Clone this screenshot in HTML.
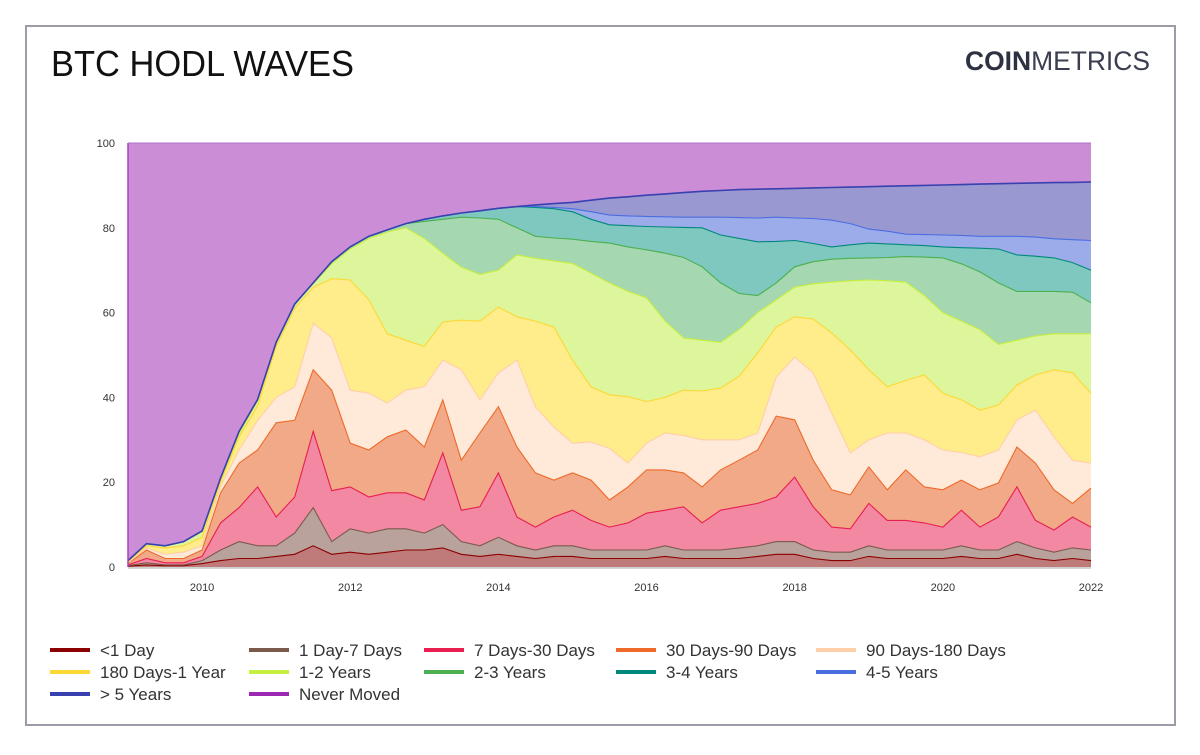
<!DOCTYPE html>
<html><head><meta charset="utf-8"><title>BTC HODL Waves</title>
<style>
html,body{margin:0;padding:0;background:#fff;}
body{width:1200px;height:750px;overflow:hidden;font-family:"Liberation Sans",sans-serif;}
</style></head>
<body>
<svg id="chart" width="1200" height="750" viewBox="0 0 1200 750" xmlns="http://www.w3.org/2000/svg">
<rect x="26" y="26" width="1149" height="699" fill="#fff" stroke="#9a9ca8" stroke-width="2"/>
<text x="51" y="76" font-size="36" fill="#111" textLength="303" lengthAdjust="spacingAndGlyphs">BTC HODL WAVES</text>
<text x="965" y="70" font-size="27" fill="#2d3142" textLength="185" lengthAdjust="spacingAndGlyphs"><tspan font-weight="bold">COIN</tspan><tspan font-weight="normal" fill="#3a3e50">METRICS</tspan></text>
<g id="grid"></g>
<g id="areas"></g>
<g id="lines"></g>
<g id="axes"></g>
<g id="legend"></g>
</svg>
<script>
// dates: quarterly from 2009.0 to 2022.0
const startYear = 2009, stepYear = 0.25;
const yTicks = [0, 20, 40, 60, 80, 100];
const xTicks = [2010, 2012, 2014, 2016, 2018, 2020, 2022];
const seriesNames = ["<1 Day","1 Day-7 Days","7 Days-30 Days","30 Days-90 Days","90 Days-180 Days","180 Days-1 Year","1-2 Years","2-3 Years","3-4 Years","4-5 Years","> 5 Years","Never Moved"];
// cumulative share (%) at top of each band
const cumLt1d = [0.2,0.5,0.3,0.3,0.8,1.5,2,2,2.5,3,5,3,3.5,3,3.5,4,4,4.5,3,2.5,3,2.5,2,2.5,2.5,2,2,2,2,2.5,2,2,2,2,2.5,3,3,2,1.5,1.5,2.5,2,2,2,2,2.5,2,2,3,2,1.5,2,1.5];
const cum1d7d = [0.3,1,0.5,0.5,1.5,4,6,5,5,8,14,6,9,8,9,9,8,10,6,5,7,5,4,5,5,4,4,4,4,5,4,4,4,4.5,5,6,6,4,3.5,3.5,5,4,4,4,4,5,4,4,6,4.5,3.5,4.5,4];
const cum7d30d = [0.5,2,1,1,2.5,10.4,14,18.9,11.8,16.5,32,18,18.9,16.5,17.5,17.5,15.8,26.9,13.4,14.2,22.2,11.8,9.4,11.8,13.4,11,9.4,10.4,12.7,13.4,14.2,10.4,13.4,14.2,15,16.5,21.2,14.2,9.4,9,15,11,11,10.4,9.4,13.4,9.4,11.8,18.9,11,8.7,11.8,9.4];
const cum30d90d = [0.8,4,2,2,4,17.5,24.5,27.6,34,34.6,46.5,41.7,29.2,27.6,30.7,32.3,28.3,39.4,25.2,31.6,37.8,28.3,22.2,20.5,22.2,20.5,15.8,18.9,22.9,22.9,22.2,18.9,22.9,25.2,27.6,35.6,34.7,25.2,18.2,17,23.6,18.2,22.9,18.9,18.2,20.5,18.2,19.8,28.3,24.5,18.2,15,18.6];
const cum90d180d = [1,4.5,3,3.5,5,19,27.6,34.6,40,42.5,57.5,54,41.7,41,38.7,41.7,42.5,48.8,46.5,39.4,45.8,48.8,37.8,33,29.2,29.5,28,24.5,29.2,31.6,31,30,30,30,31.6,44.8,49.5,45.8,36.3,26.9,30,31.6,31.6,30,27.6,27,26,27.6,34.7,37,30.7,25.2,24.5];
const cum180d1y = [1.3,5,4.5,5,7,20,30.7,38,52,61,66,68,67.7,63,55,53.5,52,57.8,58.2,58,61.3,59,58,56.6,48.8,42.5,40.6,40.2,39,40,41.7,41.5,42.2,45,50.5,56.6,59,58.5,55.2,51.2,46.5,42.5,44,45.3,41,39.4,37,38.2,42.9,45.3,46.5,45.8,41];
const cum1y2y = [1.5,5.5,5,6,8.3,20.8,31.5,39.2,52.8,62,66.8,71.5,75,77.5,79,80,77.5,74,70.7,69,70,73.6,72.8,72.2,71.6,69.3,67,65,63.5,58,54,53.5,53,56,60,63,66,66.8,67.2,67.5,67.7,67.5,67.2,64,60,58,56,52.5,53.5,54.5,55,55,55];
const cum2y3y = [1.5,5.5,5,6,8.5,21,32,39.5,53,62,67,72,75.5,78,79.5,81,81.5,82,82.5,82.3,82,80,78,77.6,77.3,76.8,76.4,75.5,74.8,74,73,70.8,67,64.5,64,67,70.8,72,72.6,72.8,72.9,73,73.2,73.1,72.9,71.5,69.6,67,65,65,65,64.8,62.3];
const cum3y4y = [1.5,5.5,5,6,8.5,21,32,39.5,53,62,67,72,75.5,78,79.5,81,82,82.8,83.5,84,84.6,85,84.8,84.5,83.8,82,80.7,80.5,80.3,80.2,80.1,80,78.3,77.5,76.7,76.8,77,76.3,75.5,76,76.4,76.2,76,75.8,75.5,75.3,75.2,75,73.6,73.3,72.9,71.8,70];
const cum4y5y = [1.5,5.5,5,6,8.5,21,32,39.5,53,62,67,72,75.5,78,79.5,81,82,82.8,83.5,84,84.6,85,85,84.8,84.5,83.8,83,82.8,82.7,82.6,82.5,82.5,82.5,82.4,82.3,82.5,82.3,82.2,81.8,81,79.7,79.2,78.5,78.4,78.3,78.2,78,78,78,77.8,77.4,77.2,77];
const cumOver5y = [1.5,5.5,5,6,8.5,21,32,39.5,53,62,67,72,75.5,78,79.5,81,82,82.8,83.5,84,84.6,85,85.4,85.7,86,86.5,87,87.3,87.7,88,88.3,88.6,88.8,89,89.1,89.2,89.3,89.4,89.5,89.6,89.7,89.8,89.9,90,90.1,90.2,90.3,90.4,90.5,90.6,90.65,90.7,90.8];

const fills = ["#bf7a7a","#b9a29c","#f288a2","#f1a987","#ffe9d8","#ffec8a","#ddf59b","#a5d8b0","#7fc8c0","#9cacea","#9a98d0","#cb8ed6"];
const strokes = ["#8b0000","#7b5a4c","#e91e50","#ee6a2a","#ffd0a8","#fdd835","#c6ef3e","#4caf50","#00897b","#4a6ee0","#3940b0","#9c27b0"];

const X0 = 128, X1 = 1091, Y0 = 567, Y1 = 143;
function xs(t){ return X0 + (t - startYear) / 13 * (X1 - X0); }
function ys(v){ return Y0 - v / 100 * (Y0 - Y1); }

const NS = "http://www.w3.org/2000/svg";
function mk(tag, attrs, parent){ const e = document.createElementNS(NS, tag); for (const k in attrs) e.setAttribute(k, attrs[k]); parent.appendChild(e); return e; }

const n = cumOver5y.length;
const dates = []; for (let i = 0; i < n; i++) dates.push(startYear + i * stepYear);
const zeros = dates.map(() => 0);
const hundred = dates.map(() => 100);
const tops = [cumLt1d, cum1d7d, cum7d30d, cum30d90d, cum90d180d, cum180d1y, cum1y2y, cum2y3y, cum3y4y, cum4y5y, cumOver5y, hundred];

const grid = document.getElementById('grid');
yTicks.forEach(v => {
  const l = mk('line', {x1: X0, x2: X1, y1: ys(v), y2: ys(v), stroke: '#e6e6e6', 'stroke-width': 1}, grid);
  
  
});

const areas = document.getElementById('areas');
const lines = document.getElementById('lines');
for (let s = tops.length - 1; s >= 0; s--) {
  const top = tops[s], bot = s === 0 ? zeros : tops[s - 1];
  let d = '';
  for (let i = 0; i < n; i++) d += (i ? 'L' : 'M') + xs(dates[i]).toFixed(1) + ',' + ys(top[i]).toFixed(1);
  for (let i = n - 1; i >= 0; i--) d += 'L' + xs(dates[i]).toFixed(1) + ',' + ys(bot[i]).toFixed(1);
  d += 'Z';
  const a = mk('path', {d: d, fill: fills[s], stroke: 'none'}, areas);
  
  
}
for (let s = 0; s < tops.length - 1; s++) {
  const top = tops[s];
  let d = '';
  for (let i = 0; i < n; i++) d += (i ? 'L' : 'M') + xs(dates[i]).toFixed(1) + ',' + ys(top[i]).toFixed(1);
  const l = mk('path', {d: d, fill: 'none', stroke: strokes[s], 'stroke-width': s === 10 ? 1.6 : 1.1}, lines);
  
  
}
const edge = mk('line', {x1: X0, x2: X0, y1: Y1, y2: Y0, stroke: '#a340c0', 'stroke-width': 1.5}, lines);


const topEdge = mk('line', {x1: X0, x2: X1, y1: Y1, y2: Y1, stroke: '#b070d0', 'stroke-width': 1}, lines);



const axes = document.getElementById('axes');
const xAxis = mk('line', {x1: X0, x2: X1, y1: Y0 + 1, y2: Y0 + 1, stroke: '#c8c8c8', 'stroke-width': 1.5}, axes);


yTicks.forEach(v => {
  const t = mk('text', {x: 115, y: ys(v) + 4, 'font-size': 11, fill: '#333', 'text-anchor': 'end'}, axes);
  t.textContent = v;
  
  
});
xTicks.forEach(v => {
  const t = mk('text', {x: xs(v), y: 591, 'font-size': 11, fill: '#333', 'text-anchor': 'middle'}, axes);
  t.textContent = v;
  
  
});

const legend = document.getElementById('legend');
const colX = [50, 249, 424, 616, 816];
const rowY = [650, 672, 694];
seriesNames.forEach((name, i) => {
  const c = i % 5, r = Math.floor(i / 5);
  const g = mk('g', {}, legend);
  
  
  mk('rect', {x: colX[c], y: rowY[r] - 2, width: 40, height: 4, fill: strokes[i]}, g);
  const t = mk('text', {x: colX[c] + 50, y: rowY[r] + 6, 'font-size': 17, fill: '#333'}, g);
  t.textContent = name;
});
</script>
</body></html>
